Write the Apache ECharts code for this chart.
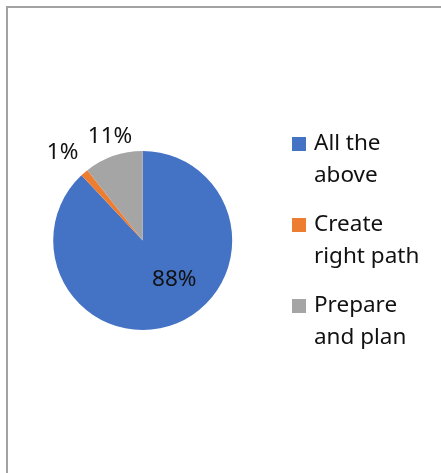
<!DOCTYPE html>
<html>
<head>
<meta charset="utf-8">
<script src="https://cdn.jsdelivr.net/npm/echarts@6/dist/echarts.min.js"></script>
<style>
  html, body { margin: 0; padding: 0; background: #fff; overflow: hidden; }
  #frame { position: absolute; left: 6px; top: 6px; width: 520px; height: 520px; border-left: 2px solid #a3a3a3; border-top: 2px solid #a3a3a3; }
  #main { position: absolute; left: 0; top: 0; width: 441px; height: 473px; }
</style>
</head>
<body>
<div id="frame"></div>
<div id="main"></div>
<script>
// 数据
var categories = ['All the above', 'Create right path', 'Prepare and plan'];
var legendLabels = ['All the\nabove', 'Create\nright path', 'Prepare\nand plan'];
var values = [88, 1.4, 10.6];
var colors = ['#4472C4', '#ED7D31', '#A5A5A5'];

// 标签微调(像素偏移)
var labelShift = [[14, -5], [-49, -52], [-17, -59]];

// 图例方块放在首行旁边(路径底部留一个不可见点撑高)
var legendIcon = 'path://M0,0H14V14H0Z M17,46H17.01V46.01Z';

var myChart = echarts.init(document.getElementById('main'), null, { renderer: 'canvas' });

var pieData = [];
for (var i = 0; i < categories.length; i++) {
    pieData.push({ name: categories[i], value: values[i], itemStyle: { color: colors[i] } });
}

var option = {
    backgroundColor: 'transparent',
    animation: false,
    textStyle: { fontFamily: 'Noto Sans' },
    legend: {
        orient: 'vertical',
        left: 292,
        top: 128,
        padding: 0,
        itemWidth: 17,
        itemHeight: 46,
        itemGap: 17,
        icon: legendIcon,
        selectedMode: false,
        itemStyle: { borderWidth: 0 },
        formatter: function (name) {
            return legendLabels[categories.indexOf(name)];
        },
        textStyle: {
            fontFamily: 'Noto Sans',
            fontSize: 22.5,
            color: '#111',
            lineHeight: 32
        },
        data: categories
    },
    series: [{
        type: 'pie',
        center: [142.7, 240.5],
        radius: 89.5,
        startAngle: 90,
        clockwise: true,
        percentPrecision: 0,
        itemStyle: { borderWidth: 0 },
        emphasis: { disabled: true },
        label: {
            show: true,
            position: 'inside',
            formatter: '{d}%',
            fontFamily: 'Noto Sans',
            fontSize: 22.5,
            color: '#111'
        },
        labelLine: { show: false },
        labelLayout: function (params) {
            var s = labelShift[params.dataIndex];
            return { dx: s[0], dy: s[1] };
        },
        data: pieData
    }]
};

myChart.setOption(option);
</script>
</body>
</html>
